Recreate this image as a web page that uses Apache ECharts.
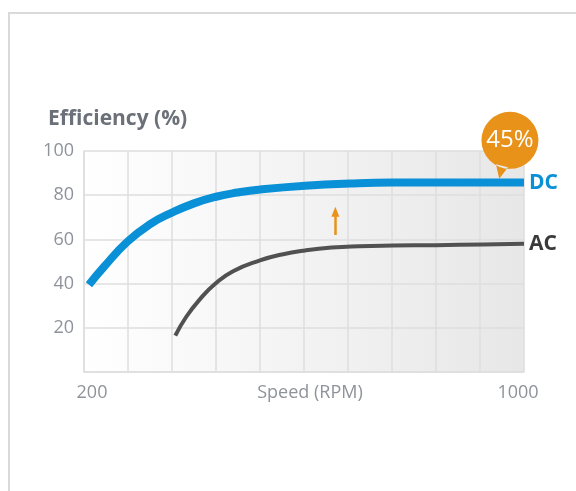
<!DOCTYPE html>
<html>
<head>
<meta charset="utf-8">
<script src="https://cdn.jsdelivr.net/npm/echarts@6/dist/echarts.min.js"></script>
<style>
  html, body { margin: 0; padding: 0; background: #fff; }
  .card {
    position: absolute; left: 8px; top: 12px; width: 568px; height: 479px;
    border-top: 2px solid #dadada; border-left: 2px solid #dadada;
  }
  #main { position: absolute; left: 0; top: 0; width: 576px; height: 491px; }
</style>
</head>
<body>
<div class="card"></div>
<div id="main"></div>
<script>
  // speed (RPM) / efficiency (%)
  var dcSpeed = [209, 236, 279, 321, 359, 400, 440, 479, 521, 602, 684, 762, 840, 920, 1000];
  var dcEff   = [39.5, 47.5, 59, 67, 72, 76.3, 79.3, 81.2, 82.6, 84.3, 85.3, 85.7, 85.7, 85.7, 85.7];
  var acSpeed = [366, 386, 411, 438, 471, 520, 560, 602, 650, 700, 762, 840, 925, 1000];
  var acEff   = [16.5, 25, 33, 39.8, 45.6, 50.5, 53.2, 55, 56.3, 56.9, 57.2, 57.4, 57.7, 58];
  var xTicks  = [200, 1000];
  var yTicks  = [20, 40, 60, 80, 100];
  var gainText = '45%';

  function pairs (xs, ys) {
    var out = []
    for (var i = 0; i < xs.length; i++) out.push([xs[i], ys[i]])
    return out
  }

  var labelColor = '#8e939b';
  var gridColor = '#dedede';
  var orange = '#e8921a';

  // bubble: circle r=28.5 with a small tail, tip at the bottom-left
  var bubble = 'path://M -28.5 0 A 28.5 28.5 0 1 1 28.5 0 A 28.5 28.5 0 1 1 -28.5 0 Z M -14 24 L -10.7 38.3 L -2 27 Z';

  var chart = echarts.init(document.getElementById('main'));
  var option = {
    animation: false,
    title: {
      text: 'Efficiency (%)',
      left: 43,
      top: 104,
      textStyle: { fontFamily: 'Open Sans', fontWeight: 'bold', fontSize: 21, color: '#6b7079' }
    },
    grid: {
      left: 84, right: 52, top: 151, bottom: 119,
      show: true,
      borderWidth: 0,
      backgroundColor: new echarts.graphic.LinearGradient(0, 0, 1, 0, [
        { offset: 0, color: '#ffffff' },
        { offset: 1, color: '#e7e7e7' }
      ])
    },
    xAxis: {
      type: 'value',
      min: 200, max: 1000, interval: 80,
      name: 'Speed (RPM)',
      nameLocation: 'middle',
      nameGap: 12,
      nameMoveOverlap: false,
      nameTextStyle: { fontFamily: 'Open Sans', fontSize: 18, color: labelColor, padding: [0, 0, 0, 12], verticalAlign: 'top' },
      axisLine: { show: true, lineStyle: { color: gridColor, width: 1.5 } },
      axisTick: { show: false },
      splitLine: { show: true, lineStyle: { color: gridColor, width: 1.5 } },
      axisLabel: {
        margin: 12,
        formatter: function (v) {
          if (v === xTicks[0]) return '{l|' + v + '}'
          if (v === xTicks[1]) return '{r|' + v + '}'
          return ''
        },
        rich: {
          l: { fontFamily: 'Open Sans', fontSize: 18, color: labelColor, padding: [0, 0, 0, 16] },
          r: { fontFamily: 'Open Sans', fontSize: 18, color: labelColor, padding: [0, 12, 0, 0] }
        }
      }
    },
    yAxis: {
      type: 'value',
      min: 0, max: 100, interval: 20,
      axisLine: { show: true, lineStyle: { color: gridColor, width: 1.5 } },
      axisTick: { show: false },
      splitLine: { show: true, lineStyle: { color: gridColor, width: 1.5 } },
      axisLabel: {
        margin: 10,
        fontFamily: 'Open Sans', fontSize: 18, color: labelColor,
        formatter: function (v) { return yTicks.indexOf(v) >= 0 ? String(v) : '' }
      }
    },
    series: [
      {
        name: 'DC',
        type: 'line',
        data: pairs(dcSpeed, dcEff),
        smooth: 0.5,
        showSymbol: false,
        lineStyle: { color: '#0a90d6', width: 8 },
        endLabel: {
          show: true, formatter: '{a}', distance: 5,
          fontFamily: 'Open Sans', fontWeight: 'bold', fontSize: 21, color: '#0a90d6'
        },
        markPoint: {
          silent: true,
          symbol: bubble,
          symbolSize: [57, 66.8],
          symbolOffset: [10.7, -33.4],
          itemStyle: { color: orange },
          label: {
            show: true, position: 'inside', offset: [0, -5],
            formatter: gainText,
            fontFamily: 'Open Sans', fontSize: 24, color: '#fff'
          },
          data: [{ coord: [955, 87.5] }]
        },
        z: 3
      },
      {
        name: 'AC',
        type: 'line',
        data: pairs(acSpeed, acEff),
        smooth: 0.5,
        showSymbol: false,
        lineStyle: { color: '#515151', width: 4 },
        endLabel: {
          show: true, formatter: '{a}', distance: 5,
          fontFamily: 'Open Sans', fontWeight: 'bold', fontSize: 21, color: '#3a3a3a'
        },
        markLine: {
          silent: true,
          symbol: ['none', 'triangle'],
          symbolSize: [8, 10],
          lineStyle: { color: orange, width: 2.5, type: 'solid' },
          label: { show: false },
          data: [[{ coord: [657, 62] }, { coord: [657, 72.5] }]]
        },
        z: 2
      }
    ]
  };
  chart.setOption(option);
</script>
</body>
</html>
